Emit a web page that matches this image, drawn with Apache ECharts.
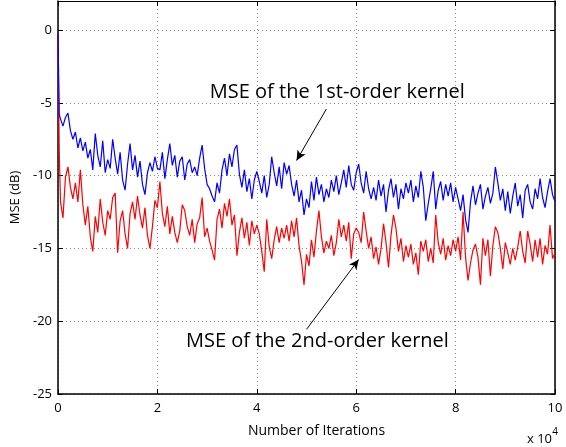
<!DOCTYPE html>
<html><head><meta charset="utf-8">
<script src="https://cdn.jsdelivr.net/npm/echarts@6/dist/echarts.min.js"></script>
<style>html,body{margin:0;padding:0;background:#fff}#c{width:566px;height:447px}</style>
</head><body><div id="c"></div>
<script>
// x in units of 10^4 iterations
const xTicks = [0, 2, 4, 6, 8, 10];
const yTicks = [-25, -20, -15, -10, -5, 0];
const headX = [0, 0.025];
const headBlue = [-0.3, -5.8];
const headRed = [-0.5, -8.3];
const bodyStart = 0.05, bodyStep = 0.05;
const blue = [
 -6.1,-6.6,-6.0,-5.7,-6.9,-7.5,-7.0,-8.1,-7.4,-8.3,-7.7,-8.8,-8.2,-9.6,-7.1,-8.6,-9.4,-7.6,-9.8,-8.9,
 -9.5,-7.5,-8.8,-9.9,-8.4,-10.3,-11.0,-9.2,-7.8,-9.6,-8.6,-10.1,-9.0,-10.6,-11.3,-9.8,-9.1,-9.7,-8.7,-9.5,
 -9.6,-8.4,-10.2,-8.9,-7.8,-9.3,-8.6,-10.1,-9.0,-8.7,-10.3,-9.2,-8.9,-9.8,-9.4,-10.0,-8.8,-7.9,-9.5,-10.6,
 -10.9,-11.4,-11.8,-10.5,-11.2,-9.6,-8.8,-10.0,-8.5,-9.4,-8.2,-7.9,-9.9,-10.8,-9.6,-11.1,-10.2,-11.6,-10.3,-9.7,
 -10.4,-11.2,-10.0,-11.5,-10.6,-8.7,-9.8,-10.7,-9.4,-10.9,-9.1,-9.9,-9.3,-10.6,-11.4,-10.3,-11.8,-11.0,-12.7,-11.6,
 -12.2,-10.4,-11.7,-10.1,-11.3,-10.6,-11.8,-10.9,-11.5,-10.3,-11.1,-10.0,-11.3,-10.5,-9.6,-10.8,-9.3,-10.6,-11.0,-9.8,
 -9.2,-10.5,-11.2,-9.7,-10.9,-11.6,-10.8,-11.7,-10.3,-11.4,-10.6,-12.5,-11.0,-10.2,-11.5,-10.6,-12.3,-10.9,-11.6,-10.5,
 -11.2,-10.3,-11.8,-10.7,-11.5,-9.7,-10.8,-13.1,-11.9,-10.9,-9.7,-12.3,-11.0,-10.4,-11.7,-10.6,-11.4,-10.5,-11.8,-10.8,
 -11.6,-12.4,-11.3,-13.0,-13.9,-11.8,-10.7,-12.0,-11.2,-10.6,-12.3,-11.4,-10.8,-11.9,-11.2,-9.4,-10.5,-11.7,-10.9,-12.4,
 -11.1,-12.6,-11.4,-10.5,-12.1,-11.3,-12.9,-11.0,-10.6,-11.8,-12.3,-10.9,-11.6,-10.2,-11.5,-12.2,-11.1,-10.2,-11.3,-11.8
];
const red = [
 -11.8,-12.9,-10.1,-9.4,-10.8,-11.6,-10.5,-11.8,-9.6,-12.0,-13.4,-12.1,-14.2,-15.2,-12.8,-13.9,-11.6,-13.2,-14.1,-12.4,
 -13.0,-11.5,-11.2,-15.3,-13.1,-12.4,-14.0,-15.0,-12.6,-11.8,-13.0,-11.4,-12.7,-13.6,-12.2,-14.1,-15.0,-13.5,-11.7,-12.2,
 -10.4,-12.6,-13.5,-12.1,-14.0,-12.8,-13.9,-14.6,-13.8,-12.0,-12.4,-13.5,-14.1,-13.0,-14.6,-13.3,-12.9,-11.5,-14.2,-13.6,
 -14.5,-15.1,-15.8,-13.0,-12.3,-13.6,-11.9,-12.8,-11.6,-13.4,-12.7,-15.5,-13.9,-12.9,-14.3,-13.2,-14.8,-13.1,-14.0,-13.4,
 -14.0,-15.2,-16.6,-13.0,-14.9,-15.7,-14.4,-13.5,-14.6,-13.6,-14.3,-13.4,-14.5,-13.1,-14.2,-12.9,-14.8,-15.9,-17.5,-15.4,
 -16.2,-14.4,-15.6,-13.8,-12.4,-14.2,-15.3,-14.5,-15.0,-14.1,-15.5,-14.6,-13.0,-14.2,-13.4,-14.5,-13.2,-15.7,-14.0,-13.6,
 -13.9,-14.6,-12.5,-13.8,-15.0,-14.2,-15.7,-14.9,-16.1,-15.0,-13.3,-14.6,-16.3,-14.1,-12.7,-13.6,-15.2,-14.3,-15.9,-14.8,
 -15.6,-14.7,-16.1,-15.3,-16.8,-14.5,-15.2,-14.4,-15.9,-15.0,-16.0,-12.7,-14.6,-15.4,-14.3,-15.8,-14.8,-15.5,-14.4,-15.2,
 -14.2,-15.8,-12.5,-15.6,-17.2,-16.0,-15.1,-14.7,-15.6,-17.5,-14.3,-15.5,-14.4,-16.9,-14.8,-13.5,-13.9,-15.0,-16.4,-14.6,
 -15.3,-16.1,-15.0,-15.8,-14.9,-13.8,-15.2,-16.0,-13.8,-14.7,-15.9,-14.4,-15.6,-14.3,-16.1,-14.8,-15.4,-13.4,-15.7,-15.3
];
const label1 = 'MSE of the 1st-order kernel';
const label2 = 'MSE of the 2nd-order kernel';
const label1Pos = [5.62, -4.3];
const label2Pos = [5.22, -21.4];
const arrow1 = [[5.40, -5.42], [4.80, -8.96]];
const arrow2 = [[5.00, -20.56], [6.05, -15.76]];

function pairs(head, body) {
  const out = head.map((v, i) => [headX[i], v]);
  body.forEach((v, i) => out.push([+(bodyStart + i * bodyStep).toFixed(3), v]));
  return out;
}
const FONT = 'Open Sans';
const axisCommon = {
  type: 'value',
  axisLine: { show: true, onZero: false, lineStyle: { color: '#000', width: 1.5 } },
  axisTick: { show: true, inside: true, length: 5, lineStyle: { color: '#000' } },
};
const chart = echarts.init(document.getElementById('c'), null, { renderer: 'canvas' });
chart.setOption({
  animation: false,
  backgroundColor: '#fff',
  grid: { left: 58, right: 11, top: 1, bottom: 53 },
  xAxis: [
    Object.assign({}, axisCommon, {
      min: 0, max: 10, interval: 2, position: 'bottom',
      axisLabel: { color: '#000', fontSize: 13, fontFamily: FONT, margin: 8,
        formatter: v => xTicks.includes(v) ? String(v) : '' },
      splitLine: { show: true, lineStyle: { color: '#8a8a8a', type: [1, 3], width: 1 } },
      name: 'Number of Iterations', nameLocation: 'middle', nameGap: 30,
      nameTextStyle: { color: '#000', fontSize: 14, fontFamily: FONT, padding: [0, 0, 0, 20] }
    }),
    Object.assign({}, axisCommon, {
      min: 0, max: 10, interval: 2, position: 'top',
      axisLabel: { show: false }, splitLine: { show: false },
      axisLine: { show: true, onZero: false, lineStyle: { color: '#000', width: 1 } }
    })
  ],
  yAxis: [
    Object.assign({}, axisCommon, {
      min: -25, max: 2, interval: 5, position: 'left',
      axisLabel: { color: '#000', fontSize: 13, fontFamily: FONT, margin: 6, showMaxLabel: false,
        formatter: v => yTicks.includes(v) ? String(v) : '' },
      splitLine: { show: true, lineStyle: { color: '#8a8a8a', type: [1, 3], width: 1 } },
      name: 'MSE (dB)', nameLocation: 'middle', nameGap: 36,
      nameTextStyle: { color: '#000', fontSize: 13, fontFamily: FONT }
    }),
    Object.assign({}, axisCommon, {
      min: -25, max: 2, interval: 5, position: 'right',
      axisLabel: { show: false }, splitLine: { show: false },
      axisLine: { show: true, onZero: false, lineStyle: { color: '#000', width: 1.5 } }
    })
  ],
  series: [
    {
      name: '2nd-order', type: 'line', data: pairs(headRed, red), showSymbol: false, symbol: 'none',
      lineStyle: { color: '#ff0000', width: 1.2 }, itemStyle: { color: '#ff0000' }, z: 2
    },
    {
      name: '1st-order', type: 'line', data: pairs(headBlue, blue), showSymbol: false, symbol: 'none',
      lineStyle: { color: '#0000ff', width: 1.2 }, itemStyle: { color: '#0000ff' }, z: 3,
      markPoint: {
        silent: true, symbol: 'circle', symbolSize: 0,
        label: { show: true, position: 'inside', color: '#000', fontSize: 20, fontFamily: FONT },
        itemStyle: { color: 'transparent' },
        data: [
          { coord: label1Pos, label: { formatter: label1 } },
          { coord: label2Pos, label: { formatter: label2 } }
        ]
      },
      markLine: {
        silent: true, symbol: ['none', 'arrow'], symbolSize: [7, 10], precision: 3,
        lineStyle: { color: '#000', type: 'solid', width: 1 }, label: { show: false },
        data: [
          [{ coord: arrow1[0] }, { coord: arrow1[1] }],
          [{ coord: arrow2[0] }, { coord: arrow2[1] }]
        ]
      }
    }
  ],
  graphic: [
    { type: 'text', right: 14, bottom: 1, style: { text: 'x 10', fill: '#000', font: '13px "Open Sans"' } },
    { type: 'text', right: 8, bottom: 10, style: { text: '4', fill: '#000', font: '10px "Open Sans"' } }
  ]
});
</script></body></html>
